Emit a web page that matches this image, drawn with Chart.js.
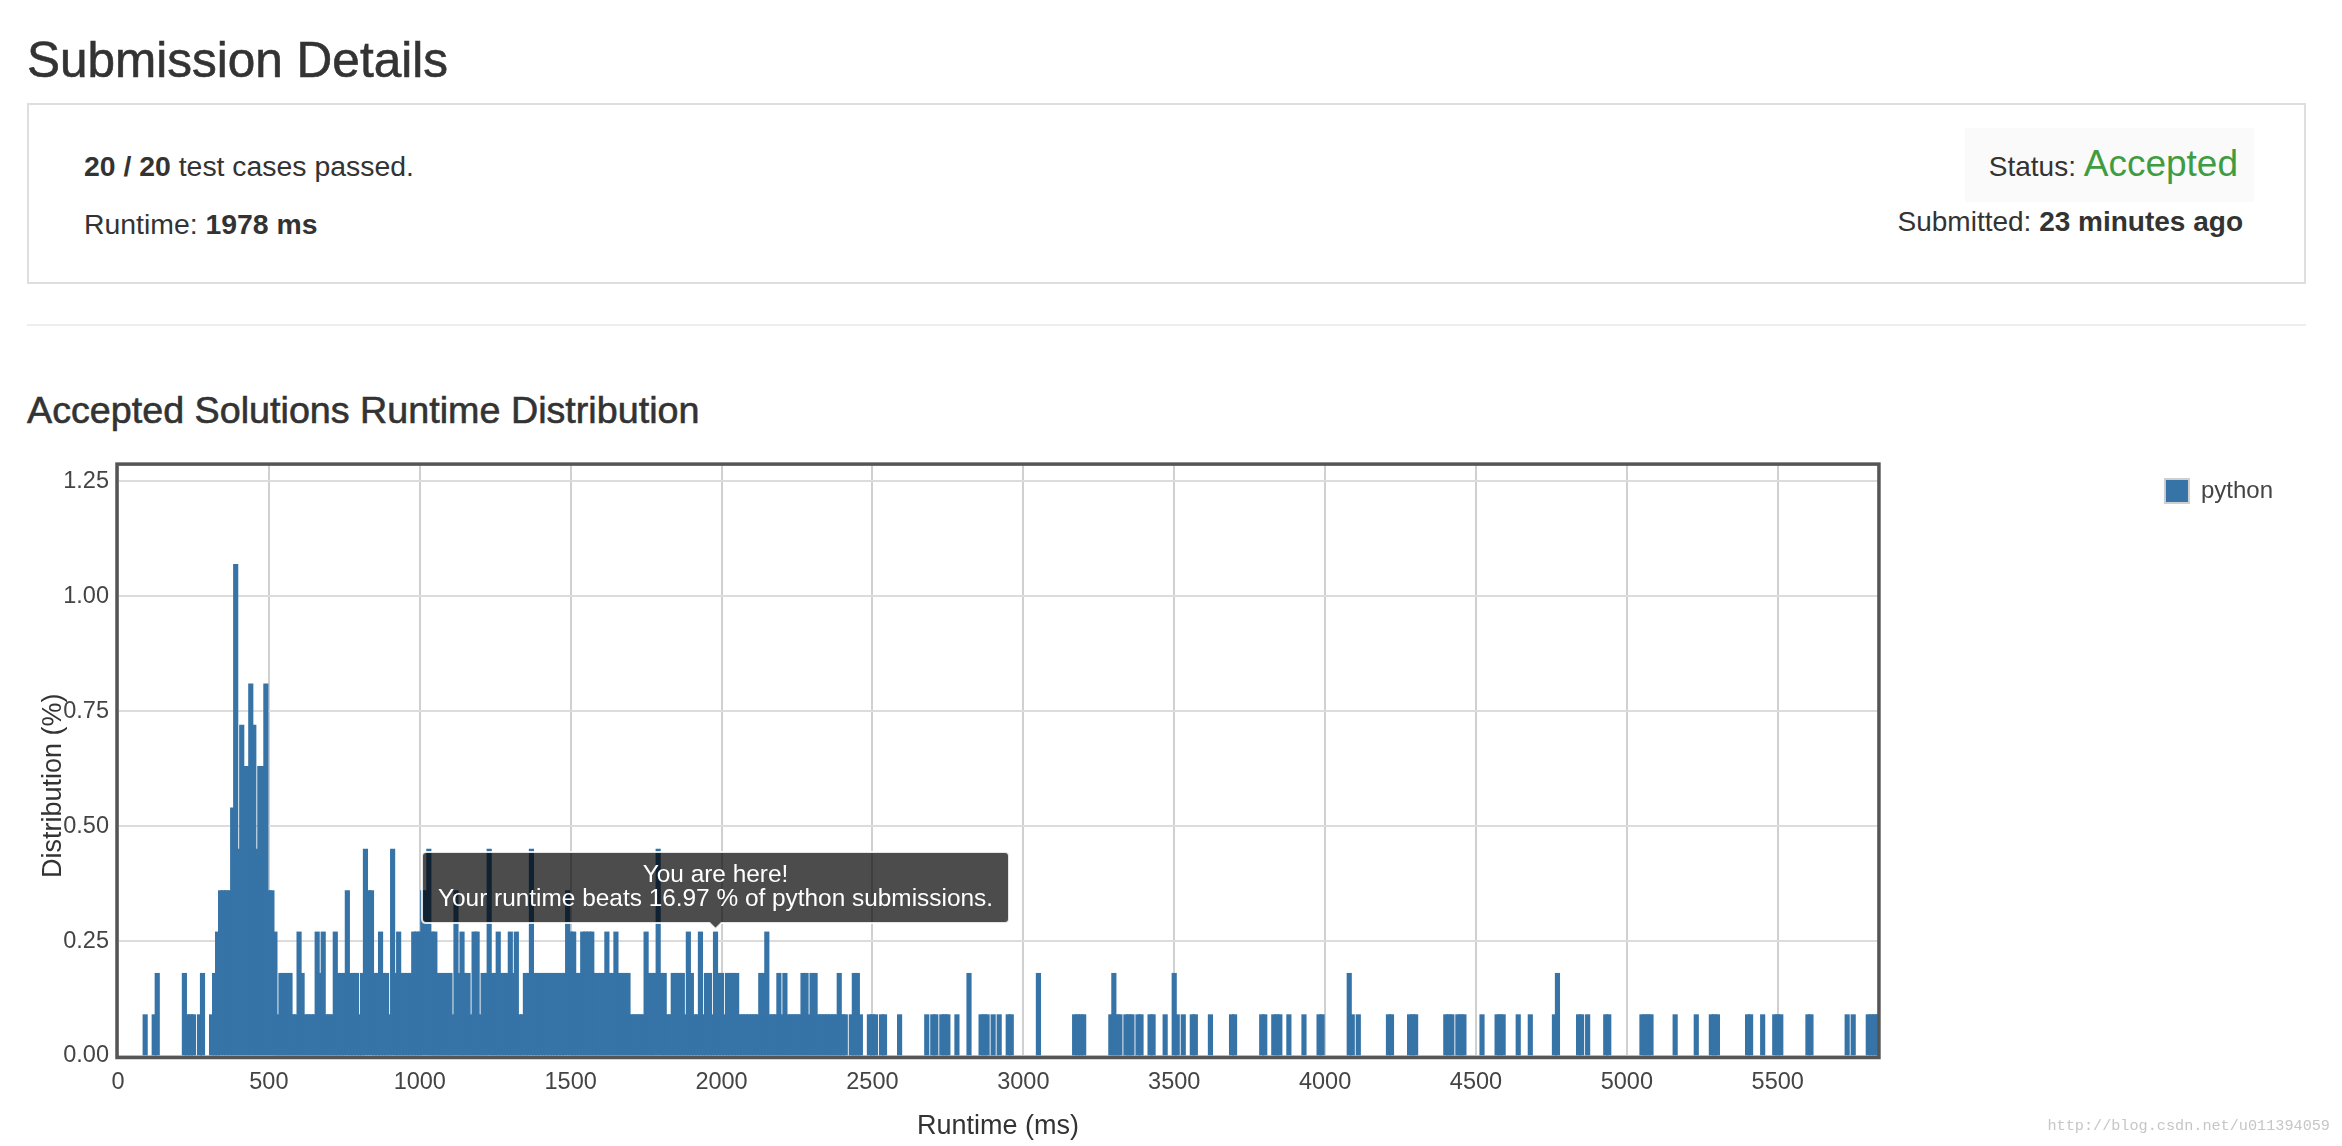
<!DOCTYPE html>
<html>
<head>
<meta charset="utf-8">
<title>Submission Details</title>
<script src="https://cdn.jsdelivr.net/npm/chart.js@4.4.0/dist/chart.umd.min.js"></script>
<style>
  body { margin: 0; background: #fff; font-family: 'Liberation Sans', Arial, sans-serif; color: #333; }
  .abs { position: absolute; line-height: 1; white-space: nowrap; }
  .heading { -webkit-text-stroke: 0.6px #333; }
  .box { position: absolute; box-sizing: border-box; border: 2px solid #dedede; }
  .status-bg { position: absolute; background: #fafafa; }
  .accepted { color: #3f9c42; font-size: 37px; }
  .divider { position: absolute; background: #eee; }
  .chart-wrap { position: absolute; left: 0; top: 440px; width: 2342px; height: 706px; }
  .watermark { font-family: 'Liberation Mono', monospace; color: #c6c6c6; }
</style>
</head>
<body>
  <div class="abs heading" style="left:27px; top:35px; font-size:49.5px;">Submission Details</div>

  <div class="box" style="left:27px; top:103px; width:2279px; height:181px;"></div>
  <div class="status-bg" style="left:1965px; top:128px; width:289px; height:74px;"></div>
  <div class="abs" style="left:84px; top:152px; font-size:28.4px;"><b>20 / 20</b> test cases passed.</div>
  <div class="abs" style="left:84px; top:210px; font-size:28.4px;">Runtime: <b>1978 ms</b></div>
  <div class="abs" style="right:104px; top:145px; font-size:28px;">Status: <span class="accepted">Accepted</span></div>
  <div class="abs" style="right:99px; top:208px; font-size:28px;">Submitted: <b>23 minutes ago</b></div>

  <div class="divider" style="left:27px; top:324px; width:2279px; height:2px;"></div>

  <div class="abs heading" style="left:27px; top:392px; font-size:37.7px;">Accepted Solutions Runtime Distribution</div>

  <div class="chart-wrap"><canvas id="chart"></canvas></div>

  <div class="abs watermark" style="right:12px; top:1119px; font-size:15.2px;">http://blog.csdn.net/u011394059</div>

<script>
    // Время выполнения (мс), по корзинам в 10 мс
    const runtimeMs = [
        90, 120, 130, 220, 230, 240, 250, 270, 280,
        310, 320, 330, 340, 350, 360, 370, 380, 390, 400,
        410, 420, 430, 440, 450, 460, 470, 480, 490, 500,
        510, 520, 530, 540, 550, 560, 570, 580, 590, 600,
        610, 620, 630, 640, 650, 660, 670, 680, 690, 700,
        710, 720, 730, 740, 750, 760, 770, 780, 790, 800,
        810, 820, 830, 840, 850, 860, 870, 880, 890, 900,
        910, 920, 930, 940, 950, 960, 970, 980, 990, 1000,
        1010, 1020, 1030, 1040, 1050, 1060, 1070, 1080, 1090, 1100,
        1110, 1120, 1130, 1140, 1150, 1160, 1170, 1180, 1190, 1200,
        1210, 1220, 1230, 1240, 1250, 1260, 1270, 1280, 1290, 1300,
        1310, 1320, 1330, 1340, 1350, 1360, 1370, 1380, 1390, 1400,
        1410, 1420, 1430, 1440, 1450, 1460, 1470, 1480, 1490, 1500,
        1510, 1520, 1530, 1540, 1550, 1560, 1570, 1580, 1590, 1600,
        1610, 1620, 1630, 1640, 1650, 1660, 1670, 1680, 1690, 1700,
        1710, 1720, 1730, 1740, 1750, 1760, 1770, 1780, 1790, 1800,
        1810, 1820, 1830, 1840, 1850, 1860, 1870, 1880, 1890, 1900,
        1910, 1920, 1930, 1940, 1950, 1960, 1970, 1980, 1990, 2000,
        2010, 2020, 2030, 2040, 2050, 2060, 2070, 2080, 2090, 2100,
        2110, 2120, 2130, 2140, 2150, 2160, 2170, 2180, 2190, 2200,
        2210, 2220, 2230, 2240, 2250, 2260, 2270, 2280, 2290, 2300,
        2310, 2320, 2330, 2340, 2350, 2360, 2370, 2380, 2390, 2400,
        2410,
        2430, 2440, 2450, 2460, 2490, 2500, 2510, 2530, 2540, 2590,
        2680, 2700, 2710, 2730, 2740, 2750, 2780, 2820, 2860, 2870,
        2880, 2900, 2920, 2950, 2960, 3050, 3170, 3180, 3190, 3200,
        3290, 3300, 3310, 3320, 3340, 3350, 3360, 3380, 3390, 3420,
        3430, 3470, 3500, 3510, 3530, 3560, 3570, 3620, 3690, 3700,
        3790, 3800, 3830, 3840, 3850, 3880, 3930, 3980, 3990, 4080,
        4090, 4110, 4210, 4220, 4280, 4290, 4300, 4400, 4410, 4420,
        4440, 4450, 4460, 4520, 4570, 4580, 4590, 4640, 4680, 4760,
        4770, 4840, 4850, 4870, 4930, 4940, 5050, 5060, 5070, 5080,
        5160, 5230, 5280, 5290, 5300, 5400, 5410, 5450, 5490, 5500,
        5510, 5600, 5610, 5730, 5750, 5800, 5810, 5820, 5830
    ];

    // Доля решений (%) для каждой корзины
    const distribution = [
        0.09, 0.09, 0.18, 0.18, 0.09, 0.09, 0.09, 0.09, 0.18,
        0.09, 0.18, 0.27, 0.36, 0.36, 0.36, 0.36, 0.54, 1.07, 0.45,
        0.72, 0.63, 0.63, 0.81, 0.72, 0.45, 0.63, 0.63, 0.81, 0.36,
        0.36, 0.27, 0.09, 0.18, 0.18, 0.18, 0.18, 0.09, 0.09, 0.27,
        0.18, 0.09, 0.09, 0.09, 0.09, 0.27, 0.18, 0.27, 0.09, 0.09,
        0.09, 0.27, 0.18, 0.18, 0.18, 0.36, 0.18, 0.18, 0.18, 0.09,
        0.18, 0.45, 0.36, 0.36, 0.18, 0.18, 0.27, 0.18, 0.18, 0.09,
        0.45, 0.18, 0.27, 0.18, 0.18, 0.18, 0.18, 0.27, 0.27, 0.27,
        0.36, 0.36, 0.45, 0.27, 0.27, 0.18, 0.18, 0.18, 0.18, 0.18,
        0.09, 0.36, 0.18, 0.27, 0.18, 0.18, 0.09, 0.27, 0.27, 0.09,
        0.18, 0.18, 0.45, 0.18, 0.18, 0.27, 0.18, 0.18, 0.18, 0.27,
        0.18, 0.27, 0.09, 0.09, 0.18, 0.18, 0.45, 0.18, 0.18, 0.18,
        0.18, 0.18, 0.18, 0.18, 0.18, 0.18, 0.18, 0.18, 0.36, 0.27,
        0.27, 0.18, 0.18, 0.27, 0.27, 0.27, 0.27, 0.18, 0.18, 0.18,
        0.18, 0.27, 0.18, 0.18, 0.27, 0.18, 0.18, 0.18, 0.18, 0.09,
        0.09, 0.09, 0.09, 0.09, 0.27, 0.18, 0.18, 0.18, 0.45, 0.18,
        0.18, 0.09, 0.09, 0.18, 0.18, 0.18, 0.18, 0.09, 0.27, 0.18,
        0.09, 0.09, 0.27, 0.09, 0.18, 0.18, 0.09, 0.27, 0.18, 0.18,
        0.09, 0.18, 0.18, 0.18, 0.18, 0.09, 0.09, 0.09, 0.09, 0.09,
        0.09, 0.09, 0.18, 0.18, 0.27, 0.09, 0.09, 0.09, 0.18, 0.09,
        0.18, 0.09, 0.09, 0.09, 0.09, 0.09, 0.18, 0.18, 0.09, 0.18,
        0.18, 0.09, 0.09, 0.09, 0.09, 0.09, 0.09, 0.09, 0.18, 0.09,
        0.09,
        0.09, 0.18, 0.18, 0.09, 0.09, 0.09, 0.09, 0.09, 0.09, 0.09,
        0.09, 0.09, 0.09, 0.09, 0.09, 0.09, 0.09, 0.18, 0.09, 0.09,
        0.09, 0.09, 0.09, 0.09, 0.09, 0.18, 0.09, 0.09, 0.09, 0.09,
        0.09, 0.18, 0.09, 0.09, 0.09, 0.09, 0.09, 0.09, 0.09, 0.09,
        0.09, 0.09, 0.18, 0.09, 0.09, 0.09, 0.09, 0.09, 0.09, 0.09,
        0.09, 0.09, 0.09, 0.09, 0.09, 0.09, 0.09, 0.09, 0.09, 0.18,
        0.09, 0.09, 0.09, 0.09, 0.09, 0.09, 0.09, 0.09, 0.09, 0.09,
        0.09, 0.09, 0.09, 0.09, 0.09, 0.09, 0.09, 0.09, 0.09, 0.09,
        0.18, 0.09, 0.09, 0.09, 0.09, 0.09, 0.09, 0.09, 0.09, 0.09,
        0.09, 0.09, 0.09, 0.09, 0.09, 0.09, 0.09, 0.09, 0.09, 0.09,
        0.09, 0.09, 0.09, 0.09, 0.09, 0.09, 0.09, 0.09, 0.09
    ];

    // Подписи делений на осях
    const runtimeTicks = [0, 500, 1000, 1500, 2000, 2500, 3000, 3500, 4000, 4500, 5000, 5500];
    const distributionTicks = [0, 0.25, 0.5, 0.75, 1, 1.25];

    // Подсказка "You are here!"
    const yourRuntimeMs = 1978;
    const beatsPercent = 16.97;
    const language = 'python';

    // Границы осей
    const runtimeMaxMs = 5832;
    const distributionMax = 1.29;

    const barColor = '#3673a7';
    Chart.defaults.font.family = "'Liberation Sans', Arial, sans-serif";

    // Подсказка крепится к верху столбика
    Chart.Tooltip.positioners.barTop = function (items) {
        if (!items.length) return false;
        const el = items[0].element;
        return { x: el.x, y: el.y };
    };

    // Рамка вокруг области графика
    const plotFrame = {
        id: 'plotFrame',
        afterDatasetsDraw(chart) {
            const { ctx, chartArea: a } = chart;
            ctx.save();
            ctx.strokeStyle = '#555';
            ctx.lineWidth = 3.5;
            ctx.strokeRect(a.left - 1, a.top + 1, a.right - a.left + 2, a.bottom - a.top + 0.5);
            ctx.restore();
        }
    };

    const chart = new Chart(document.getElementById('chart'), {
        type: 'bar',
        data: {
            datasets: [
                {
                    label: language,
                    data: runtimeMs.map((ms, i) => ({ x: ms, y: distribution[i] })),
                    backgroundColor: barColor,
                    borderWidth: 0,
                    barThickness: 4.5
                }
            ]
        },
        options: {
            responsive: true,
            maintainAspectRatio: false,
            animation: false,
            events: [],
            layout: { padding: { top: 23, right: 59, bottom: 0, left: 0 } },
            scales: {
                x: {
                    type: 'linear',
                    min: 0,
                    max: runtimeMaxMs,
                    offset: false,
                    afterBuildTicks: s => { s.ticks = runtimeTicks.map(value => ({ value })); },
                    ticks: {
                        autoSkip: false,
                        maxRotation: 0,
                        padding: 12,
                        color: '#444',
                        font: { size: 23.5 },
                        callback: v => String(v)
                    },
                    grid: { color: '#d0d0d0', lineWidth: 2, drawTicks: false, offset: false },
                    border: { display: false },
                    title: {
                        display: true,
                        text: 'Runtime (ms)',
                        color: '#333',
                        font: { size: 27 },
                        padding: { top: 0, bottom: 3 }
                    },
                    afterFit: s => { s.height = 90; }
                },
                y: {
                    min: 0,
                    max: distributionMax,
                    afterBuildTicks: s => { s.ticks = distributionTicks.map(value => ({ value })); },
                    ticks: {
                        padding: 9,
                        color: '#444',
                        font: { size: 23.5 },
                        callback: v => v.toFixed(2)
                    },
                    grid: { color: '#dcdcdc', lineWidth: 2, drawTicks: false },
                    border: { display: false },
                    title: {
                        display: true,
                        // хвостовые пробелы сдвигают подпись немного вниз, как в оригинале
                        text: 'Distribution (%)       ',
                        color: '#333',
                        font: { size: 27 },
                        padding: { top: 37, bottom: 0 }
                    },
                    afterFit: s => { s.width = 118; }
                },
                // пустое место между графиком и легендой
                gap: {
                    type: 'linear',
                    position: 'right',
                    grid: { display: false },
                    ticks: { display: false },
                    border: { display: false },
                    afterFit: s => { s.width = 271; }
                }
            },
            plugins: {
                legend: {
                    position: 'right',
                    align: 'start',
                    labels: {
                        boxWidth: 24,
                        boxHeight: 24,
                        padding: 16,
                        color: '#444',
                        font: { size: 24 },
                        generateLabels: c => Chart.defaults.plugins.legend.labels.generateLabels(c)
                            .map(item => ({ ...item, strokeStyle: '#cfcfcf', lineWidth: 2 }))
                    }
                },
                tooltip: {
                    enabled: true,
                    position: 'barTop',
                    xAlign: 'center',
                    yAlign: 'bottom',
                    backgroundColor: 'rgba(0, 0, 0, 0.7)',
                    borderColor: 'rgba(255, 255, 255, 0.85)',
                    borderWidth: 2,
                    titleColor: '#fff',
                    bodyColor: '#fff',
                    titleFont: { size: 24.4, weight: 'normal', lineHeight: 1 },
                    bodyFont: { size: 24.4, lineHeight: 1 },
                    titleAlign: 'center',
                    bodyAlign: 'center',
                    titleMarginBottom: 0,
                    padding: { top: 11, bottom: 11, left: 16, right: 16 },
                    caretSize: 6,
                    caretPadding: 3,
                    cornerRadius: 4,
                    displayColors: false,
                    callbacks: {
                        title: () => 'You are here!',
                        label: () => `Your runtime beats ${beatsPercent} % of ${language} submissions.`
                    }
                }
            }
        },
        plugins: [plotFrame]
    });

    // Показать подсказку у ближайшего столбика
    let hereIndex = 0;
    runtimeMs.forEach((ms, i) => {
        if (Math.abs(ms - yourRuntimeMs) < Math.abs(runtimeMs[hereIndex] - yourRuntimeMs)) hereIndex = i;
    });
    chart.tooltip.setActiveElements([{ datasetIndex: 0, index: hereIndex }], { x: 0, y: 0 });
    chart.update();
</script>
</body>
</html>
